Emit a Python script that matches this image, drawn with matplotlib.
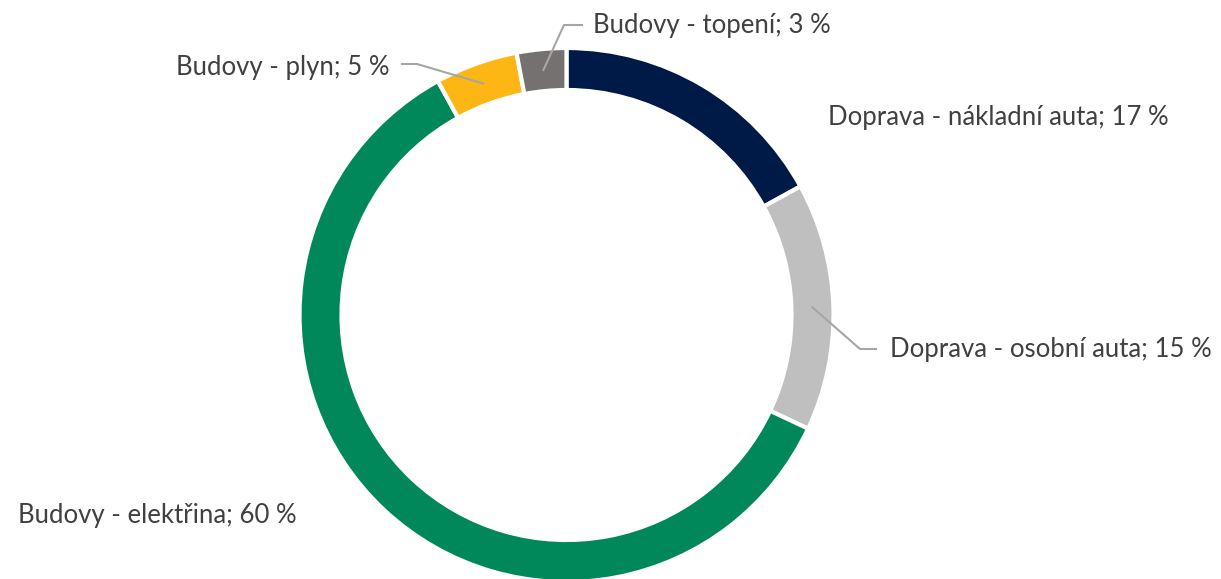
import numpy as np
import matplotlib.pyplot as plt

labels = ["Doprava - nákladní auta", "Doprava - osobní auta", "Budovy - elektřina",
          "Budovy - plyn", "Budovy - topení"]
values = [17, 15, 60, 5, 3]
colors = ["#001A47", "#BFBFBF", "#00875A", "#FDB614", "#767171"]

W, H = 1221, 579
fig = plt.figure(figsize=(W / 100, H / 100), dpi=100)
ax = fig.add_axes([0, 0, 1, 1])

cx, cy = 566.5, H - 315
R = 267
ring = 42

ax.pie(values, colors=colors, startangle=90, counterclock=False, radius=R,
       center=(cx, cy), wedgeprops=dict(width=ring, edgecolor="white", linewidth=3))
ax.set_xlim(0, W)
ax.set_ylim(0, H)
ax.set_aspect("auto")
ax.axis("off")

# mid angle of each wedge (degrees, clockwise from top)
cum = np.cumsum(values) - np.array(values) / 2
mid = np.array(cum) / sum(values) * 360
rmid = R - ring / 2

def anchor(i):
    a = np.radians(mid[i])
    return cx + rmid * np.sin(a), cy + rmid * np.cos(a)

txt = dict(fontsize=18.5, color="#404040", family=["Lato", "DejaVu Sans"], va="center")
line = dict(color="#A6A6A6", lw=1.5)

# label positions (pixels from top-left), alignment, leader elbow
pos = {
    0: (828, 118, "left", None),
    1: (890, 350, "left", [(860, 349), (876, 349)]),
    2: (18, 515, "left", None),
    3: (390, 68, "right", [(417, 64), (402, 64)]),
    4: (593, 26, "left", [(564, 25), (582, 25)]),
}

for i, (x, y, ha, elbow) in pos.items():
    ax.text(x, H - y, f"{labels[i]}; {values[i]} %", ha=ha, **txt)
    if elbow:
        ax_, ay_ = anchor(i)
        xs = [ax_] + [p[0] for p in elbow]
        ys = [ay_] + [H - p[1] for p in elbow]
        ax.plot(xs, ys, **line)

fig.savefig("out.png", dpi=100)
